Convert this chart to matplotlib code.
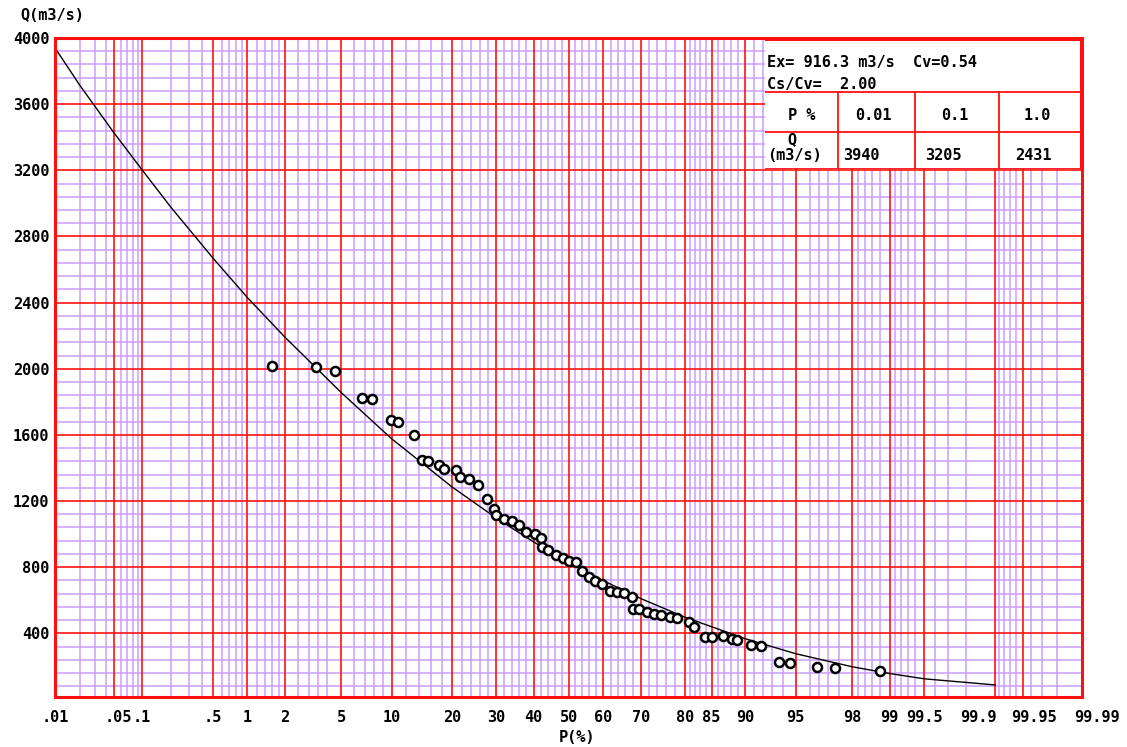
import numpy as np
import matplotlib
matplotlib.use('Agg')
import matplotlib.pyplot as plt
from matplotlib.transforms import ScaledTranslation
from statistics import NormalDist

# ---- data ----
p_obs = [1.58, 3.36, 4.52, 6.71, 7.71, 9.89, 10.9, 13.1, 14.4, 15.4,
         17.5, 18.3, 20.7, 21.5, 23.5, 25.7, 27.7, 29.4, 29.9, 31.9,
         34.0, 36.1, 37.8, 40.3, 42.0, 42.3, 44.2, 46.3, 48.3, 50.0,
         52.3, 54.0, 56.0, 57.7, 59.7, 61.7, 63.6, 65.7, 67.6, 68.1,
         69.6, 71.4, 73.3, 74.9, 76.8, 78.5, 80.9, 81.9, 83.9, 85.0,
         86.9, 88.2, 88.9, 90.7, 91.8, 93.6, 94.6, 96.4, 97.3, 98.8]
q_obs = [2018, 2012, 1988, 1824, 1818, 1691, 1679, 1600, 1448, 1442,
         1418, 1394, 1388, 1345, 1333, 1297, 1212, 1151, 1115, 1091,
         1079, 1055, 1012, 1000, 976, 921, 903, 873, 855, 836,
         830, 776, 739, 715, 697, 655, 648, 642, 618, 545,
         545, 527, 515, 509, 497, 491, 467, 436, 376, 376,
         382, 364, 358, 327, 321, 224, 218, 194, 188, 170]

p_curve = [0.01, 0.02, 0.05, 0.1, 0.2, 0.5, 1, 2, 5, 10, 20, 30, 40, 50,
           60, 70, 80, 90, 95, 98, 99, 99.5, 99.9]
q_curve = [3940, 3715, 3425, 3205, 2975, 2670, 2431, 2191, 1855, 1577, 1284,
           1098, 953, 830, 718, 610, 498, 367, 277, 198, 157, 125, 88]

x_major = [0.01, 0.05, 0.1, 0.5, 1, 2, 5, 10, 20, 30, 40, 50, 60, 70, 80, 85,
           90, 95, 98, 99, 99.5, 99.9, 99.95, 99.99]
x_labels = ['.01', '.05', '.1', '.5', '1', '2', '5', '10', '20', '30', '40',
            '50', '60', '70', '80', '85', '90', '95', '98', '99', '99.5',
            '99.9', '99.95', '99.99']
x_minor = [0.02, 0.03, 0.04, 0.06, 0.07, 0.08, 0.09, 0.2, 0.3, 0.4,
           0.6, 0.7, 0.8, 0.9, 1.2, 1.4, 1.6, 1.8, 2.5, 3, 3.5, 4,
           6, 7, 8, 9, 12, 14, 16, 18, 22, 24, 26, 28, 32, 34, 36, 38,
           42, 44, 46, 48, 52, 54, 56, 58, 62, 64, 66, 68, 72, 74, 76, 78,
           81, 82, 83, 84, 86, 87, 88, 89, 91, 92, 93, 94, 96, 96.5, 97, 97.5,
           98.2, 98.4, 98.6, 98.8, 99.1, 99.2, 99.3, 99.4, 99.6, 99.7, 99.8,
           99.91, 99.92, 99.93, 99.94, 99.96, 99.97, 99.98]

y_major = list(range(400, 4001, 400))
y_minor = [v for v in range(80, 4000, 80) if v % 400 != 0]

ex, cv, cs_cv = 916.3, 0.54, 2.00
tab_p = ['0.01', '0.1', '1.0']
tab_q = [3940, 3205, 2431]

RED = '#FF1010'
PURPLE = '#CC9EFF'
FONT = 'DejaVu Sans Mono'

# probability scale (normal quantiles)
nd = NormalDist()
_fwd = np.vectorize(lambda p: nd.inv_cdf(min(max(p / 100.0, 1e-9), 1 - 1e-9)),
                    otypes=[float])
_inv = np.vectorize(lambda z: nd.cdf(z) * 100.0, otypes=[float])

fig = plt.figure(figsize=(11.27, 7.47), dpi=100, facecolor='white')
ax = fig.add_axes([55 / 1127, 1 - 697 / 747, 1027 / 1127, 659 / 747])
ax.set_xscale('function', functions=(_fwd, _inv))
ax.set_xlim(0.01, 99.99)
ax.set_ylim(15, 4000)

for v in x_minor:
    ax.axvline(v, color=PURPLE, lw=1.1, zorder=1)
for v in y_minor:
    ax.axhline(v, color=PURPLE, lw=1.1, zorder=1)
for v in x_major:
    ax.axvline(v, color=RED, lw=1.2, zorder=2)
for v in y_major:
    ax.axhline(v, color=RED, lw=1.2, zorder=2)

ax.plot(p_curve, q_curve, color='black', lw=1.0, zorder=4)
ax.plot(p_obs, q_obs, ls='none', marker='o', ms=6.5, mfc='white', mec='black',
        mew=1.8, zorder=5)

for s in ax.spines.values():
    s.set_color(RED)
    s.set_linewidth(2.2)
    s.set_zorder(6)

ax.set_xticks(x_major)
ax.set_xticklabels(x_labels)
ax.set_yticks(y_major)
ax.minorticks_off()
ax.tick_params(length=0, labelsize=11)
ax.tick_params(axis='x', pad=9)
ax.tick_params(axis='y', pad=4)
for lab in ax.get_xticklabels() + ax.get_yticklabels():
    lab.set_fontfamily(FONT)
    lab.set_fontweight('bold')

# nudge the crowded labels like the original
shifts = {'.05': 0.04, '99.9': -0.17, '99.95': 0.11, '99.99': 0.15}
for lab in ax.get_xticklabels():
    if lab.get_text() in shifts:
        lab.set_transform(lab.get_transform() +
                          ScaledTranslation(shifts[lab.get_text()], 0, fig.dpi_scale_trans))

fig.text(20 / 1127, 1 - 16 / 747, 'Q(m3/s)', fontsize=11, fontweight='bold',
         family=FONT, ha='left', va='center')
fig.text(577 / 1127, 1 - 738 / 747, 'P(%)', fontsize=11, fontweight='bold',
         family=FONT, ha='center', va='center')

# parameter table, top right
tx = fig.add_axes([765 / 1127, 1 - 169 / 747, 317 / 1127, 131 / 747], zorder=10)
tx.set_xlim(0, 317)
tx.set_ylim(131, 0)
tx.axis('off')
tx.add_patch(plt.Rectangle((0, 0), 317, 131, color='white', zorder=0))
kw = dict(color=RED, lw=1.3)
tx.plot([0, 317], [54, 54], **kw)
tx.plot([0, 317], [94, 94], **kw)
tx.plot([0, 317], [130.5, 130.5], **kw)
for xv in [73, 150, 234]:
    tx.plot([xv, xv], [54, 131], **kw)
tx.plot([0, 317], [0.5, 0.5], color=RED, lw=2.2)
tx.plot([316, 316], [0, 131], color=RED, lw=2.2)

tkw = dict(family=FONT, fontweight='bold', fontsize=11, va='center')
tx.text(2, 24, f'Ex= {ex:.1f} m3/s  Cv={cv:.2f}', ha='left', **tkw)
tx.text(2, 46, f'Cs/Cv=  {cs_cv:.2f}', ha='left', **tkw)
tx.text(37, 78, 'P %', ha='center', **tkw)
tx.text(2, 117, '(m3/s)', ha='left', **tkw)
tx.text(27, 102, 'Q', ha='center', **tkw)
for xc, lab in zip([108, 190, 272], tab_p):
    tx.text(xc, 78, lab, ha='center', **tkw)
for xl, val in zip([78, 160, 250], tab_q):
    tx.text(xl, 117, str(val), ha='left', **tkw)

fig.savefig('out.png', dpi=100, facecolor='white')
